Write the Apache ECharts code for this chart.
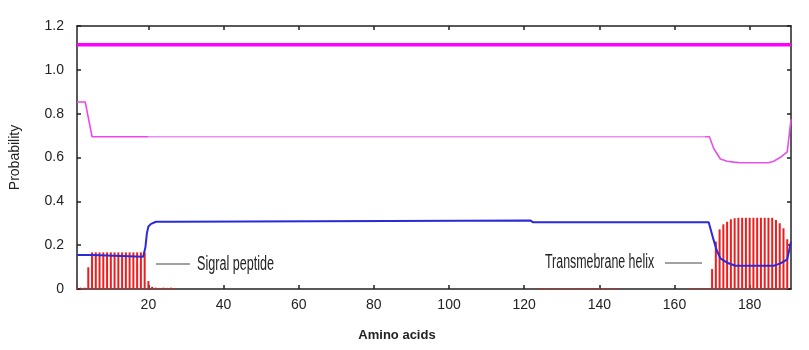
<!DOCTYPE html>
<html>
<head>
<meta charset="utf-8">
<script src="https://cdn.jsdelivr.net/npm/echarts@6/dist/echarts.min.js"></script>
<style>
  html, body { margin: 0; padding: 0; background: #fff; }
  #chart { width: 809px; height: 350px; }
</style>
</head>
<body>
<div id="chart"></div>
<script>
// x axis: amino acid position, y axis: probability
var xTicks = [20, 40, 60, 80, 100, 120, 140, 160, 180];

// top (thick magenta) line - constant
var topLine = [[1, 1.115], [191, 1.115]];

// pink line (breakpoints)
var pinkLine = [[1, 0.853], [3.2, 0.853], [5, 0.695], [169.3, 0.695], [170.4, 0.642], [172.2, 0.593],
  [174, 0.583], [175.8, 0.579], [177.5, 0.576], [185, 0.576], [186.4, 0.583], [188.2, 0.601],
  [190, 0.626], [191, 0.774]];

// blue line
var blueLine = [[1, 0.155], [5, 0.155], [5.5, 0.147], [18.6, 0.147], [19.2, 0.19], [19.6, 0.255],
  [20, 0.285], [20.7, 0.297], [22, 0.307], [27, 0.307], [27.5, 0.312], [121.7, 0.312], [122.3, 0.305],
  [169.1, 0.305], [170.4, 0.224], [171.2, 0.178], [172.2, 0.14], [174, 0.12], [176.2, 0.106],
  [186.4, 0.106], [188.2, 0.117], [190, 0.135], [191, 0.216]];

// red impulses, one per residue
var signalStart = 1; // residues 1..27
var signalScore = [0.006, 0.006, 0.006, 0.099,
  0.167, 0.167, 0.167, 0.167, 0.167, 0.167, 0.167, 0.167, 0.167, 0.167, 0.167, 0.167, 0.167, 0.167, 0.167,
  0.036, 0.010, 0.006, 0.005, 0.006, 0.005, 0.006, 0.004];
var lowStartA = 124; // residues 124..145
var lowScoreA = [0.004, 0.004, 0.004, 0.004, 0.004, 0.004, 0.004, 0.004, 0.004, 0.004, 0.004,
  0.004, 0.004, 0.004, 0.004, 0.004, 0.004, 0.004, 0.004, 0.004, 0.004, 0.004];
var lowStartB = 164; // residues 164..169
var lowScoreB = [0.004, 0.004, 0.004, 0.004, 0.004, 0.004];
var tmStart = 170; // residues 170..190
var tmScore = [0.091, 0.216, 0.272, 0.295, 0.307, 0.318, 0.323,
  0.325, 0.325, 0.325, 0.325, 0.325, 0.325, 0.325, 0.325, 0.325, 0.325,
  0.315, 0.30, 0.277, 0.227];

function toPairs(start, arr) {
  return arr.map(function (v, i) { return [start + i, v]; });
}
var redBars = [].concat(toPairs(signalStart, signalScore), toPairs(lowStartA, lowScoreA),
  toPairs(lowStartB, lowScoreB), toPairs(tmStart, tmScore));

var chart = echarts.init(document.getElementById('chart'));
var axisFont = { color: '#222', fontSize: 14, fontFamily: 'Liberation Sans' };
var frame = { show: true, onZero: false, lineStyle: { color: '#222', width: 1.5 } };
var tick = { show: true, inside: true, length: 4, lineStyle: { color: '#222', width: 1.5 } };

var option = {
  animation: false,
  grid: { left: 76, right: 18, top: 26, bottom: 61 },
  xAxis: [{
    type: 'value', min: 1, max: 191, position: 'bottom',
    axisLine: frame,
    axisTick: Object.assign({ customValues: xTicks }, tick),
    axisLabel: Object.assign({ customValues: xTicks, margin: 9 }, axisFont),
    splitLine: { show: false }
  }, {
    type: 'value', min: 1, max: 191, position: 'top',
    axisLine: frame,
    axisTick: Object.assign({ customValues: xTicks }, tick),
    axisLabel: { show: false },
    splitLine: { show: false }
  }],
  yAxis: [{
    type: 'value', min: 0, max: 1.2, interval: 0.2, position: 'left',
    name: 'Probability', nameLocation: 'middle', nameGap: 55,
    nameTextStyle: { color: '#222', fontSize: 14, fontFamily: 'Liberation Sans' },
    axisLine: frame, axisTick: tick,
    axisLabel: Object.assign({
      margin: 13,
      formatter: function (v) { return v === 0 ? '0' : v.toFixed(1); }
    }, axisFont),
    splitLine: { show: false }
  }, {
    type: 'value', min: 0, max: 1.2, interval: 0.2, position: 'right',
    axisLine: frame, axisTick: tick, axisLabel: { show: false },
    splitLine: { show: false }
  }],
  visualMap: {
    show: false, type: 'piecewise', seriesIndex: 1, dimension: 0,
    pieces: [
      { lt: 20, color: '#ee44ee' },
      { gte: 20, lt: 168, color: '#f08cf0' },
      { gte: 168, color: '#e650e6' }
    ]
  },
  series: [{
    type: 'line', data: topLine, symbol: 'none',
    lineStyle: { color: '#ff00ff', width: 3.5 }, z: 3
  }, {
    type: 'line', data: pinkLine, symbol: 'none',
    lineStyle: { width: 1.6 }, z: 3
  }, {
    type: 'bar', data: redBars, barWidth: 2,
    itemStyle: { color: '#f01c1c' }, z: 2
  }, {
    type: 'line', data: blueLine, symbol: 'none',
    lineStyle: { color: '#2a2ad8', width: 2 }, z: 4
  }],
  graphic: [
    { type: 'line', shape: { x1: 156, y1: 264, x2: 190, y2: 264 }, style: { stroke: '#444', lineWidth: 1 } },
    { type: 'text', x: 197, y: 264, scaleX: 0.63,
      style: { text: 'Sigral peptide', font: '20px "Liberation Sans"', fill: '#222', verticalAlign: 'middle' } },
    { type: 'text', x: 545, y: 262, scaleX: 0.62,
      style: { text: 'Transmebrane helix', font: '20px "Liberation Sans"', fill: '#222', verticalAlign: 'middle' } },
    { type: 'line', shape: { x1: 665, y1: 263, x2: 702, y2: 263 }, style: { stroke: '#444', lineWidth: 1 } },
    { type: 'text', x: 397, y: 335,
      style: { text: 'Amino acids', font: 'bold 13px "Liberation Sans"', fill: '#222', align: 'center', verticalAlign: 'middle' } }
  ]
};
chart.setOption(option);
</script>
</body>
</html>
